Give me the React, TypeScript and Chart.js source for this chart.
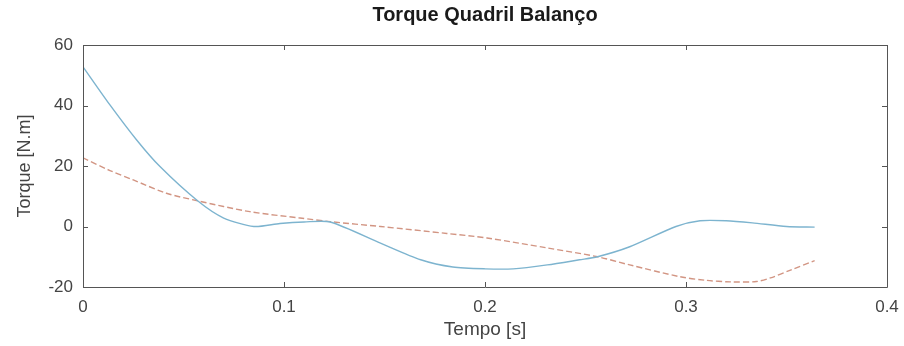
import React, { useEffect, useRef } from "react";
import { Chart, registerables } from "chart.js";

Chart.register(...registerables);

const chartTitle = "Torque Quadril Balanço";
const xAxisTitle = "Tempo [s]";
const yAxisTitle = "Torque [N.m]";

const xTicks = [0, 0.1, 0.2, 0.3, 0.4];
const yTicks = [-20, 0, 20, 40, 60];

const blueTime = [0, 0.0134, 0.0267, 0.0383, 0.057, 0.07, 0.085, 0.098, 0.11, 0.123, 0.148, 0.168, 0.184, 0.2, 0.214, 0.231, 0.247, 0.256, 0.272, 0.295, 0.307, 0.32, 0.333, 0.35, 0.364];
const blueTorque = [52.8, 40.2, 28.6, 19.8, 8.5, 2.8, 0, 1.0, 1.5, 1.5, -5.5, -11, -13.4, -14, -14, -12.7, -11, -10, -6.7, 0, 1.9, 1.9, 1.2, 0, -0.2];

const redTime = [0, 0.0134, 0.025, 0.0415, 0.057, 0.083, 0.108, 0.123, 0.148, 0.181, 0.201, 0.231, 0.256, 0.272, 0.297, 0.31, 0.322, 0.335, 0.342, 0.352, 0.364];
const redTorque = [22.7, 18.5, 15.4, 11, 8.5, 4.9, 2.8, 1.6, 0, -2.3, -3.8, -7.1, -10, -12.7, -16.6, -17.8, -18.3, -18.2, -17, -14.4, -11.3];

const FONT = "'Liberation Sans', Arial, Helvetica, sans-serif";
const AXIS_COLOR = "#555555";

const boxPlugin = {
  id: "matlabBox",
  afterDraw(chart: any) {
    const { ctx, chartArea } = chart;
    const { left, right, top, bottom } = chartArea;
    const xs = chart.scales.x;
    const ys = chart.scales.y;
    const len = 5;
    ctx.save();
    ctx.strokeStyle = AXIS_COLOR;
    ctx.lineWidth = 1;
    ctx.beginPath();
    ctx.rect(Math.round(left) + 0.5, Math.round(top) + 0.5, Math.round(right - left), Math.round(bottom - top));
    ctx.stroke();
    ctx.beginPath();
    xTicks.forEach((v) => {
      const px = Math.round(xs.getPixelForValue(v)) + 0.5;
      ctx.moveTo(px, bottom);
      ctx.lineTo(px, bottom - len);
      ctx.moveTo(px, top);
      ctx.lineTo(px, top + len);
    });
    yTicks.forEach((v) => {
      const py = Math.round(ys.getPixelForValue(v)) + 0.5;
      ctx.moveTo(left, py);
      ctx.lineTo(left + len, py);
      ctx.moveTo(right, py);
      ctx.lineTo(right - len, py);
    });
    ctx.stroke();
    // title centred over the plot area
    ctx.fillStyle = "#1a1a1a";
    ctx.font = "bold 20px " + FONT;
    ctx.textAlign = "center";
    ctx.textBaseline = "alphabetic";
    ctx.fillText(chartTitle, (left + right) / 2, 21);
    ctx.restore();
  },
};

export default function App() {
  const canvasRef = useRef<HTMLCanvasElement | null>(null);

  useEffect(() => {
    if (!canvasRef.current) return;
    const chart = new Chart(canvasRef.current, {
      type: "scatter",
      data: {
        datasets: [
          {
            label: "blue",
            data: blueTime.map((t, i) => ({ x: t, y: blueTorque[i] })),
            showLine: true,
            borderColor: "#7db4cf",
            backgroundColor: "#7db4cf",
            borderWidth: 1.4,
            pointRadius: 0,
            tension: 0.25,
          },
          {
            label: "red",
            data: redTime.map((t, i) => ({ x: t, y: redTorque[i] })),
            showLine: true,
            borderColor: "#d29583",
            backgroundColor: "#d29583",
            borderWidth: 1.4,
            borderDash: [6, 3],
            pointRadius: 0,
            tension: 0.3,
          },
        ],
      },
      options: {
        animation: false,
        responsive: false,
        maintainAspectRatio: false,
        layout: { padding: { left: 0, right: 17, top: 45, bottom: 0 } },
        plugins: {
          legend: { display: false },
          tooltip: { enabled: false },
          title: { display: false },
        },
        scales: {
          x: {
            type: "linear",
            min: 0,
            max: 0.4,
            afterFit: (scale: any) => {
              scale.height = 59;
              scale.paddingLeft = 0;
              scale.paddingRight = 0;
            },
            afterBuildTicks: (scale: any) => {
              scale.ticks = xTicks.map((v) => ({ value: v }));
            },
            grid: { display: false, drawTicks: false },
            border: { display: false },
            ticks: {
              color: "#444444",
              font: { family: FONT, size: 17 },
              padding: 10,
              maxRotation: 0,
              callback: (v: any) => String(v),
            },
            title: {
              display: true,
              text: xAxisTitle,
              color: "#444444",
              font: { family: FONT, size: 19 },
              padding: { top: 0, bottom: 5 },
            },
          },
          y: {
            type: "linear",
            min: -20,
            max: 60,
            afterFit: (scale: any) => {
              scale.width = 83;
              scale.paddingTop = 0;
              scale.paddingBottom = 0;
            },
            afterBuildTicks: (scale: any) => {
              scale.ticks = yTicks.map((v) => ({ value: v }));
            },
            grid: { display: false, drawTicks: false },
            border: { display: false },
            ticks: {
              color: "#444444",
              font: { family: FONT, size: 17 },
              padding: 10,
              callback: (v: any) => String(v),
            },
            title: {
              display: true,
              text: yAxisTitle,
              color: "#444444",
              font: { family: FONT, size: 18 },
              padding: { top: 14, bottom: 0 },
            },
          },
        },
      },
      plugins: [boxPlugin],
    });
    return () => chart.destroy();
  }, []);

  return (
    <div style={{ position: "absolute", left: 0, top: 0, width: 904, height: 346, background: "#ffffff" }}>
      <canvas ref={canvasRef} width={904} height={346} style={{ display: "block", width: 904, height: 346 }} />
    </div>
  );
}
